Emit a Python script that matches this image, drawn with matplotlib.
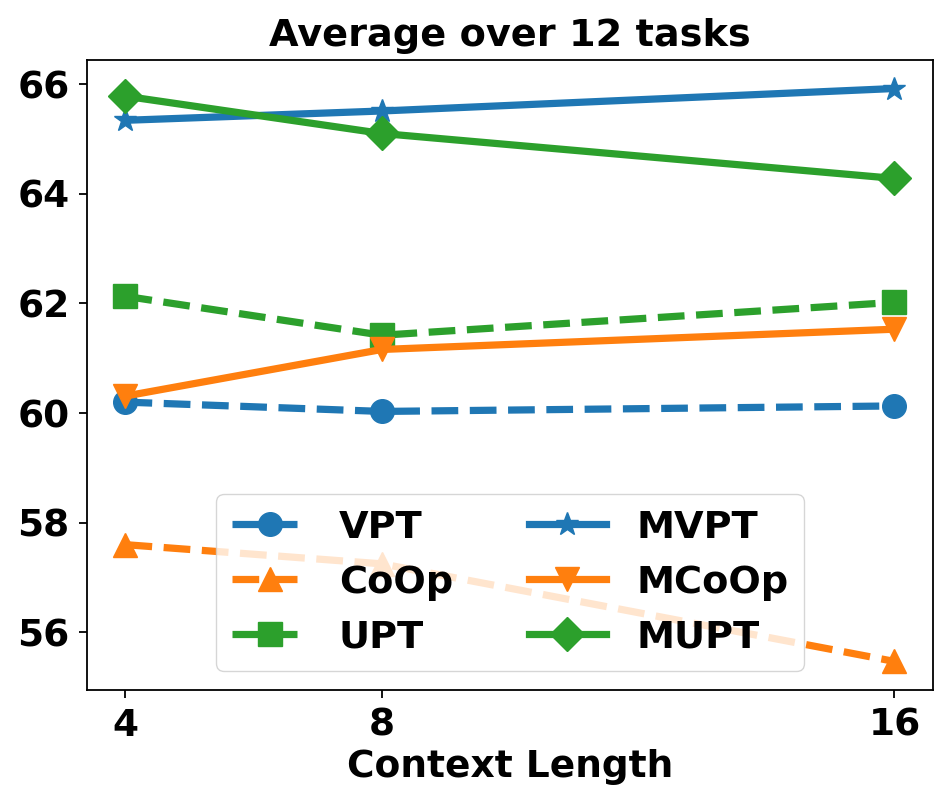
import matplotlib
matplotlib.use('Agg')
import matplotlib.pyplot as plt

# context lengths and average accuracy over 12 tasks
ctx_len = [4, 8, 16]
vpt = [60.20, 60.03, 60.13]
coop = [57.60, 57.25, 55.47]
upt = [62.13, 61.42, 62.02]
mvpt = [65.34, 65.51, 65.92]
mcoop = [60.31, 61.16, 61.53]
mupt = [65.78, 65.10, 64.28]

plt.rcParams['font.weight'] = 'bold'
plt.rcParams['font.size'] = 27

fig = plt.figure(figsize=(9.51, 8.09), dpi=100)
ax = fig.add_axes([0.0915, 0.147, 0.981 - 0.0915, 0.926 - 0.147])

lw, ms = 5.2, 17
ax.plot(ctx_len, vpt, '--o', color='tab:blue', lw=lw, ms=ms, label='VPT')
ax.plot(ctx_len, coop, '--^', color='tab:orange', lw=lw, ms=ms, label='CoOp')
ax.plot(ctx_len, upt, '--s', color='tab:green', lw=lw, ms=ms, label='UPT')
ax.plot(ctx_len, mvpt, '-*', color='tab:blue', lw=lw, ms=ms, label='MVPT')
ax.plot(ctx_len, mcoop, '-v', color='tab:orange', lw=lw, ms=ms, label='MCoOp')
ax.plot(ctx_len, mupt, '-D', color='tab:green', lw=lw, ms=ms, label='MUPT')

ax.set_xticks(ctx_len)
ax.set_xticklabels([str(c) for c in ctx_len])
ax.set_yticks([56, 58, 60, 62, 64, 66])
ax.tick_params(labelsize=27, length=5.8, width=1.3, pad=6.8)
ax.set_title('Average over 12 tasks', fontsize=27.5, fontweight='bold', pad=10)
ax.set_xlabel('Context Length', fontsize=27, fontweight='bold', labelpad=4)
for sp in ax.spines.values():
    sp.set_linewidth(1.3)
ax.legend(loc='lower center', ncol=2, numpoints=1, fontsize=27.5)

fig.savefig('out.png', dpi=100)
